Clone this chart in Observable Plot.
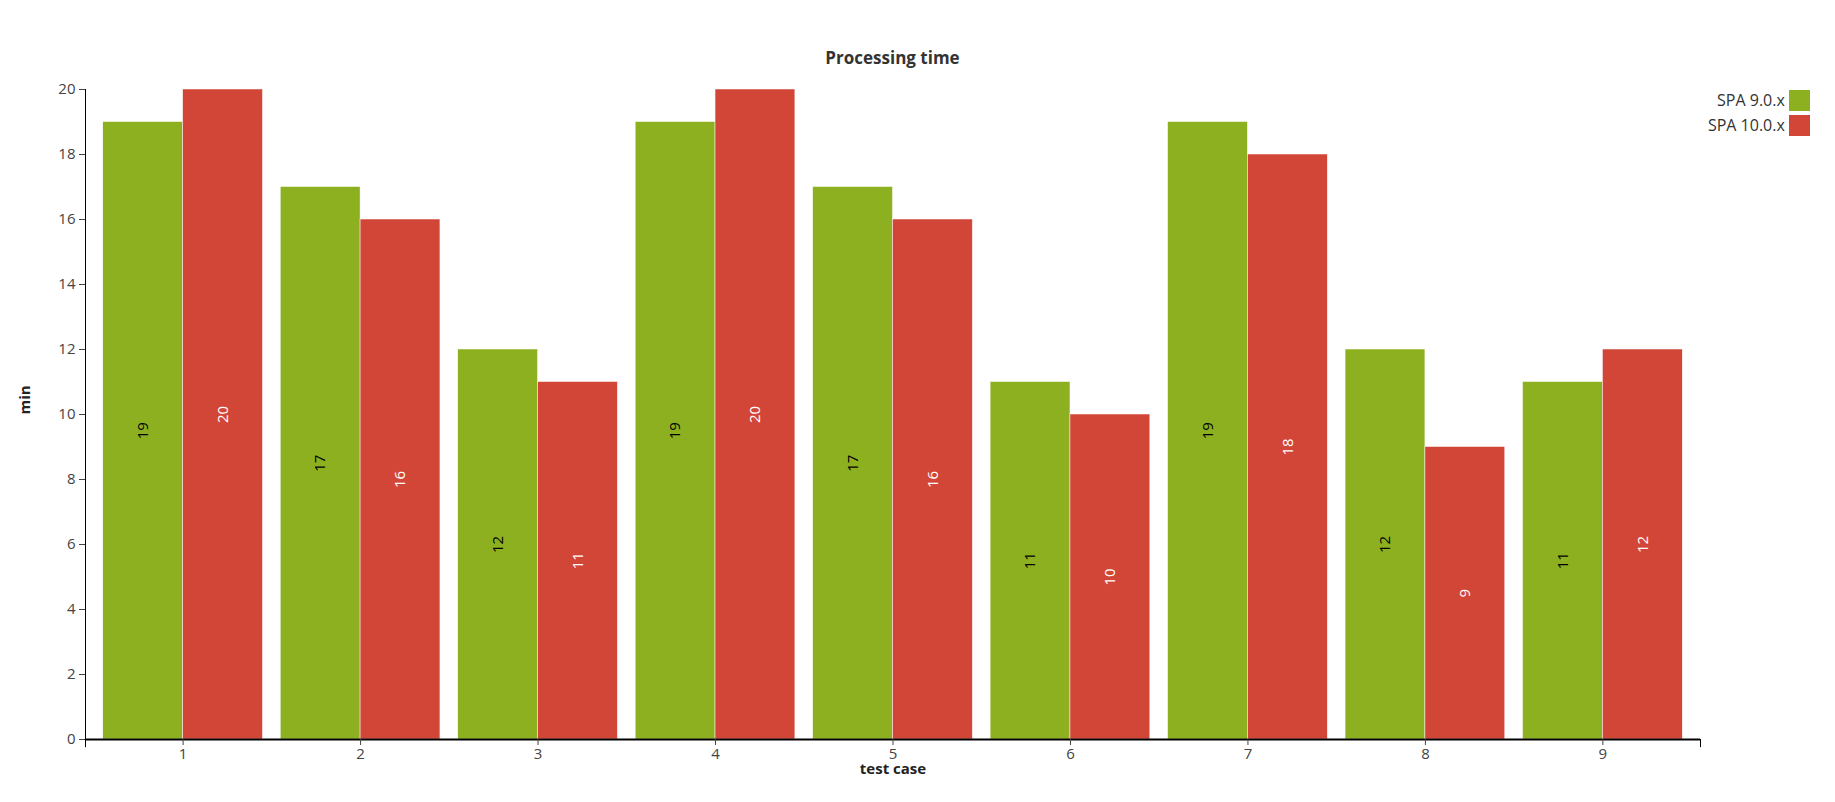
<!DOCTYPE html><html><head><meta charset="utf-8">
<script src="https://cdn.jsdelivr.net/npm/d3@7"></script>
<script src="https://cdn.jsdelivr.net/npm/@observablehq/plot@0.6"></script>
<style>body{margin:0;background:#fff;font-family:"Open Sans",sans-serif}#wrap{position:relative;width:1835px;height:802px}
.t{position:absolute;color:#333}</style></head><body><div id="wrap">
<div class="t" style="left:0;width:1785px;top:46px;text-align:center;font-weight:bold;font-size:17px">Processing time</div>
<div class="t" style="right:25px;top:88px;font-size:16px;line-height:25px;text-align:right">
<div>SPA 9.0.x <span style="display:inline-block;width:21px;height:21px;background:#8db020;vertical-align:-5px"></span></div>
<div>SPA 10.0.x <span style="display:inline-block;width:21px;height:21px;background:#d24638;vertical-align:-5px"></span></div></div>
</div>
<script>
const cases=[1,2,3,4,5,6,7,8,9];
const spa9=[19,17,12,19,17,11,19,12,11];
const spa10=[20,16,11,20,16,10,18,9,12];
const series=["SPA 9.0.x","SPA 10.0.x"];
const colors=["#8db020","#d24638"];
const data=[];
cases.forEach((c,i)=>{data.push({c,s:0,v:spa9[i]});data.push({c,s:1,v:spa10[i]});});
const plot=Plot.plot({width:1835,height:802,marginLeft:85,marginRight:135,marginTop:89,marginBottom:63,
style:{fontFamily:"Open Sans",fontSize:"15px",color:"#444"},
x:{domain:[0.45,9.55]},y:{domain:[0,20]},
marks:[
Plot.rectY(data,{x1:d=>d.s===0?d.c-0.45:d.c,x2:d=>d.s===0?d.c:d.c+0.45,y1:0,y2:"v",fill:d=>colors[d.s],stroke:"white",strokeWidth:0.5}),
Plot.text(data,{x:d=>d.c+(d.s===0?-0.225:0.225),y:d=>d.v/2,text:d=>String(d.v),rotate:-90,fill:d=>d.s===0?"black":"white",fontSize:15}),
Plot.ruleY([0],{stroke:"black",strokeWidth:2}),
Plot.ruleX([0.45,9.55],{y1:0,y2:-0.25,stroke:"black"}),
Plot.ruleX([0.45],{stroke:"black",strokeWidth:1}),
Plot.axisY({ticks:d3.range(0,21,2),tickSize:6,label:null,tickPadding:4,fontSize:15}),
Plot.axisX({ticks:cases,tickSize:6,label:null,tickFormat:d=>d,fontSize:15}),
Plot.text(["min"],{frameAnchor:"left",dx:-60,rotate:-90,fontWeight:"bold",fontSize:15,fill:"#222"}),
Plot.text(["test case"],{frameAnchor:"bottom",dy:34,fontWeight:"bold",fontSize:15,fill:"#222"})
]});
plot.style.position="absolute";plot.style.left="0";plot.style.top="0";
document.getElementById("wrap").prepend(plot);
</script></body></html>
